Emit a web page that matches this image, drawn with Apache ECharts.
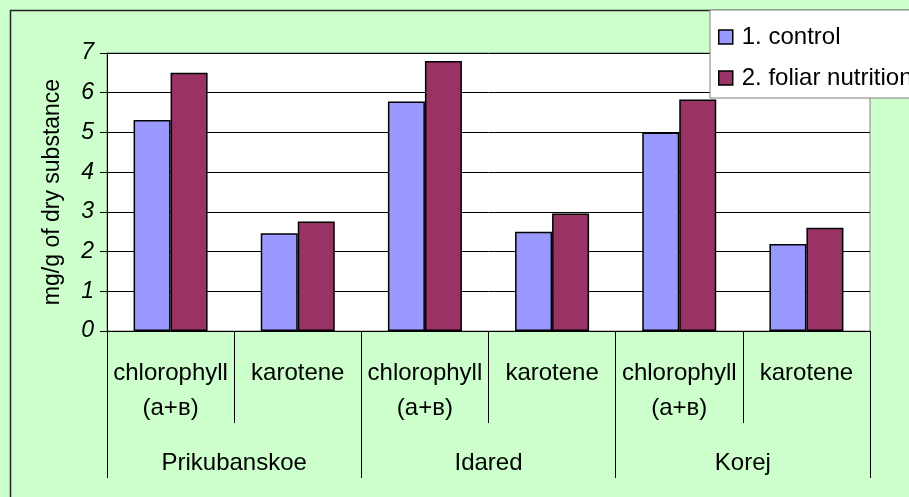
<!DOCTYPE html>
<html>
<head>
<meta charset="utf-8">
<script src="https://cdn.jsdelivr.net/npm/echarts@6/dist/echarts.min.js"></script>
<style>
html,body{margin:0;padding:0;background:#CCFFCC;}
#chart{width:909px;height:497px;}
</style>
</head>
<body>
<div id="chart"></div>
<script>
const categories = ['chlorophyll\n(а+в)', 'karotene', 'chlorophyll\n(а+в)', 'karotene', 'chlorophyll\n(а+в)', 'karotene'];
const groups = ['Prikubanskoe', 'Idared', 'Korej'];
const seriesNames = ['1. control', '2. foliar nutrition'];
const controlValues = [5.31, 2.46, 5.78, 2.50, 5.00, 2.19];
const foliarValues = [6.50, 2.76, 6.80, 2.96, 5.83, 2.60];
const yTicks = [0, 1, 2, 3, 4, 5, 6, 7];

const FONT = '"Liberation Sans", Arial, sans-serif';
const chart = echarts.init(document.getElementById('chart'), null, {renderer: 'canvas'});
chart.setOption({
  backgroundColor: '#CCFFCC',
  animation: false,
  textStyle: {fontFamily: FONT, color: '#000'},
  graphic: [{
    type: 'rect', z: -1, silent: true,
    shape: {x: 10.5, y: 10.5, width: 1200, height: 1200},
    style: {fill: 'none', stroke: '#222', lineWidth: 1.5}
  }],
  legend: {
    orient: 'vertical',
    left: 710, top: 10,
    padding: [15, 40, 8, 8],
    itemGap: 17,
    itemWidth: 14, itemHeight: 14,
    icon: 'rect',
    backgroundColor: '#fff',
    borderColor: '#808080', borderWidth: 1,
    textStyle: {fontSize: 24, fontFamily: FONT, color: '#000', padding: [0, 0, 0, 4]},
    itemStyle: {borderColor: '#000', borderWidth: 1.5},
    data: seriesNames
  },
  grid: {
    left: 107, right: 39, top: 53, bottom: 166,
    show: true, backgroundColor: '#fff', borderColor: '#808080', borderWidth: 1
  },
  xAxis: [{
    type: 'category',
    data: categories,
    position: 'bottom',
    axisLine: {show: true, lineStyle: {color: '#000', width: 1}},
    axisTick: {show: true, interval: 0, length: 92, lineStyle: {color: '#000', width: 1}},
    axisLabel: {interval: 0, margin: 25, fontSize: 24, lineHeight: 35, fontFamily: FONT, color: '#000'},
    splitLine: {show: false}
  }, {
    type: 'category',
    data: groups,
    position: 'bottom',
    axisLine: {show: false},
    axisTick: {show: true, interval: 0, length: 147, lineStyle: {color: '#000', width: 1}},
    axisLabel: {interval: 0, margin: 120, fontSize: 24, fontFamily: FONT, color: '#000'},
    splitLine: {show: false}
  }],
  yAxis: {
    type: 'value',
    min: yTicks[0], max: yTicks[yTicks.length - 1], interval: 1,
    name: 'mg/g of dry substance',
    nameLocation: 'middle',
    nameGap: 43,
    nameTextStyle: {fontSize: 23, fontFamily: FONT, color: '#000'},
    axisLine: {show: true, lineStyle: {color: '#000', width: 1}},
    axisTick: {show: true, length: 7, lineStyle: {color: '#000'}},
    axisLabel: {margin: 13, fontSize: 23, fontStyle: 'italic', fontFamily: FONT, color: '#000'},
    splitLine: {show: true, lineStyle: {color: '#000', width: 1}}
  },
  series: [{
    name: seriesNames[0], type: 'bar', xAxisIndex: 0,
    data: controlValues, barWidth: 37, barGap: '0%',
    itemStyle: {color: '#9999FF', borderColor: '#000', borderWidth: 1.5}
  }, {
    name: seriesNames[1], type: 'bar', xAxisIndex: 0,
    data: foliarValues, barWidth: 37, barGap: '0%',
    itemStyle: {color: '#993366', borderColor: '#000', borderWidth: 1.5}
  }]
});
</script>
</body>
</html>
